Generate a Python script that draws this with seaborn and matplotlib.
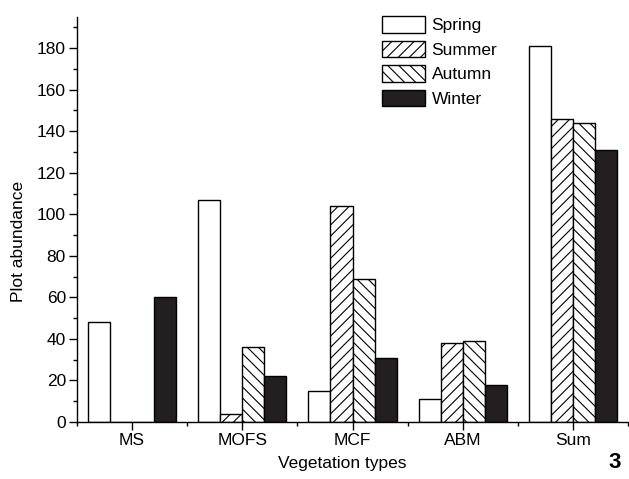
import matplotlib
matplotlib.use("Agg")
import matplotlib.pyplot as plt
from matplotlib.ticker import MultipleLocator, FixedLocator
import seaborn as sns
import pandas as pd

categories = ["MS", "MOFS", "MCF", "ABM", "Sum"]
seasons = ["Spring", "Summer", "Autumn", "Winter"]
spring = [48, 107, 15, 11, 181]
summer = [0, 4, 104, 38, 146]
autumn = [0, 36, 69, 39, 144]
winter = [60, 22, 31, 18, 131]

rows = []
for s, vals in zip(seasons, [spring, summer, autumn, winter]):
    for c, v in zip(categories, vals):
        rows.append({"Vegetation types": c, "Season": s, "Plot abundance": v})
df = pd.DataFrame(rows)

sns.set_style("ticks")
plt.rcParams["font.family"] = ["Liberation Sans", "DejaVu Sans"]
plt.rcParams["hatch.linewidth"] = 0.8
plt.rcParams["text.color"] = "black"
plt.rcParams["axes.labelcolor"] = "black"

fig = plt.figure(figsize=(6.29, 4.79), dpi=100)
ax = fig.add_axes([77 / 629, 1 - 422 / 479, (628 - 77) / 629, (422 - 17) / 479])

palette = {"Spring": "white", "Summer": "white", "Autumn": "white", "Winter": "#231f20"}
sns.barplot(data=df, x="Vegetation types", y="Plot abundance", hue="Season",
            hue_order=seasons, order=categories, palette=palette,
            edgecolor="black", linewidth=1.0, saturation=1, width=0.8,
            legend=False, ax=ax)

hatches = ["", "///", "\\\\\\", ""]
for cont, h in zip(ax.containers, hatches):
    for p in cont.patches:
        p.set_hatch(h)
        p.set_edgecolor("black")

ax.set_xlim(-0.5, 4.5)
ax.set_ylim(0, 195)
ax.yaxis.set_major_locator(MultipleLocator(20))
ax.yaxis.set_minor_locator(MultipleLocator(10))
ax.xaxis.set_minor_locator(FixedLocator([-0.5, 0.5, 1.5, 2.5, 3.5, 4.5]))
ax.tick_params(axis="both", which="major", direction="out", length=6, width=1.0,
               labelsize=12.5, pad=2, colors="black")
ax.tick_params(axis="both", which="minor", direction="out", length=3, width=1.0,
               colors="black")
for sp in ["top", "right"]:
    ax.spines[sp].set_visible(False)
for sp in ["left", "bottom"]:
    ax.spines[sp].set_linewidth(1.0)
    ax.spines[sp].set_color("black")

ax.set_xlabel("Vegetation types", fontsize=12.5, labelpad=4)
ax.set_ylabel("Plot abundance", fontsize=12.5, labelpad=4)
ax.xaxis.set_label_coords(0.481, -0.085)
ax.yaxis.set_label_coords(-0.0925, 0.447)

leg = ax.legend(ax.containers, seasons, loc="upper left",
                bbox_to_anchor=(382 / 629, 1 - 16 / 479), bbox_transform=fig.transFigure,
                frameon=False, fontsize=12.5, handlelength=2.5, handleheight=1.1,
                labelspacing=0.42, handletextpad=0.35, borderpad=0, borderaxespad=0)

fig.text(615 / 629, 1 - 462 / 479, "3", fontsize=16, fontweight="bold",
         ha="center", va="center")

fig.savefig("out.png", dpi=100)
